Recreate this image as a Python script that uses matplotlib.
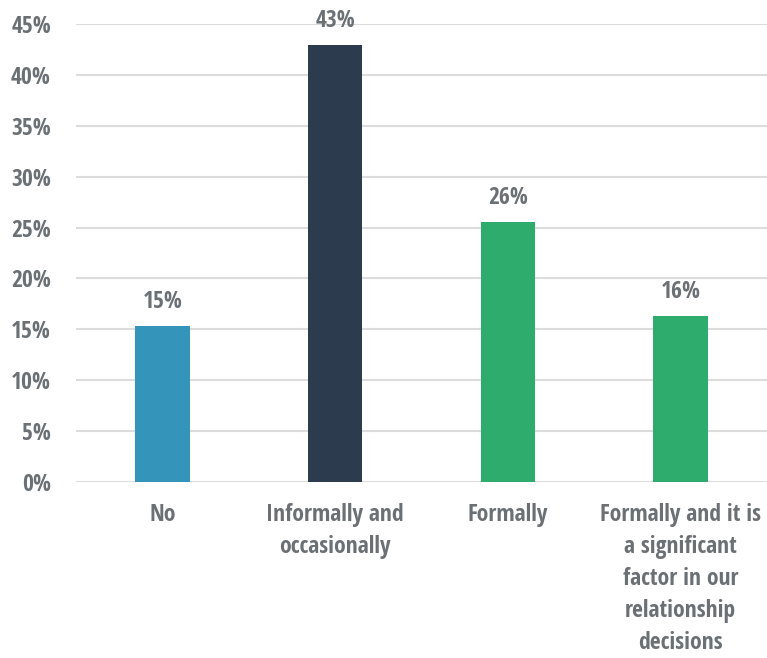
import matplotlib.pyplot as plt

categories = ['No', 'Informally and\noccasionally', 'Formally',
              'Formally and it is\na significant\nfactor in our\nrelationship\ndecisions']
values = [15.3, 42.9, 25.5, 16.3]
labels = ['15%', '43%', '26%', '16%']
colors = ['#3494ba', '#2d3b4e', '#2eac6d', '#2eac6d']

plt.rcParams['font.family'] = ['Open Sans Condensed', 'Open Sans', 'DejaVu Sans']
plt.rcParams['font.weight'] = 'bold'
txt = '#6b7075'

fig = plt.figure(figsize=(7.67, 6.58), dpi=100)
ax = fig.add_axes([0.099, 0.2675, 0.901, 0.696])

x = range(len(categories))
ax.bar(x, values, width=0.316, color=colors, zorder=3)
for i, v in enumerate(values):
    ax.text(i, v + 1.8, labels[i], ha='center', va='baseline', fontsize=17,
            fontweight='bold', color=txt)

ax.set_ylim(0, 45)
ax.set_xlim(-0.5, 3.5)
ax.set_yticks(range(0, 50, 5))
ax.set_yticklabels([f'{t}%' for t in range(0, 50, 5)])
ax.set_xticks(list(x))
ax.set_xticklabels(categories, linespacing=1.45)
ax.yaxis.grid(True, color='#dcdcdc', lw=1.5, zorder=0)
ax.tick_params(length=0, labelsize=17, labelcolor=txt)
ax.tick_params(axis='y', pad=18)
ax.tick_params(axis='x', pad=15)
for lab in ax.get_xticklabels() + ax.get_yticklabels():
    lab.set_fontweight('bold')
for lab in ax.get_yticklabels():
    lab.set_verticalalignment('center_baseline')
for s in ax.spines.values():
    s.set_visible(False)

fig.savefig('out.png', dpi=100)
